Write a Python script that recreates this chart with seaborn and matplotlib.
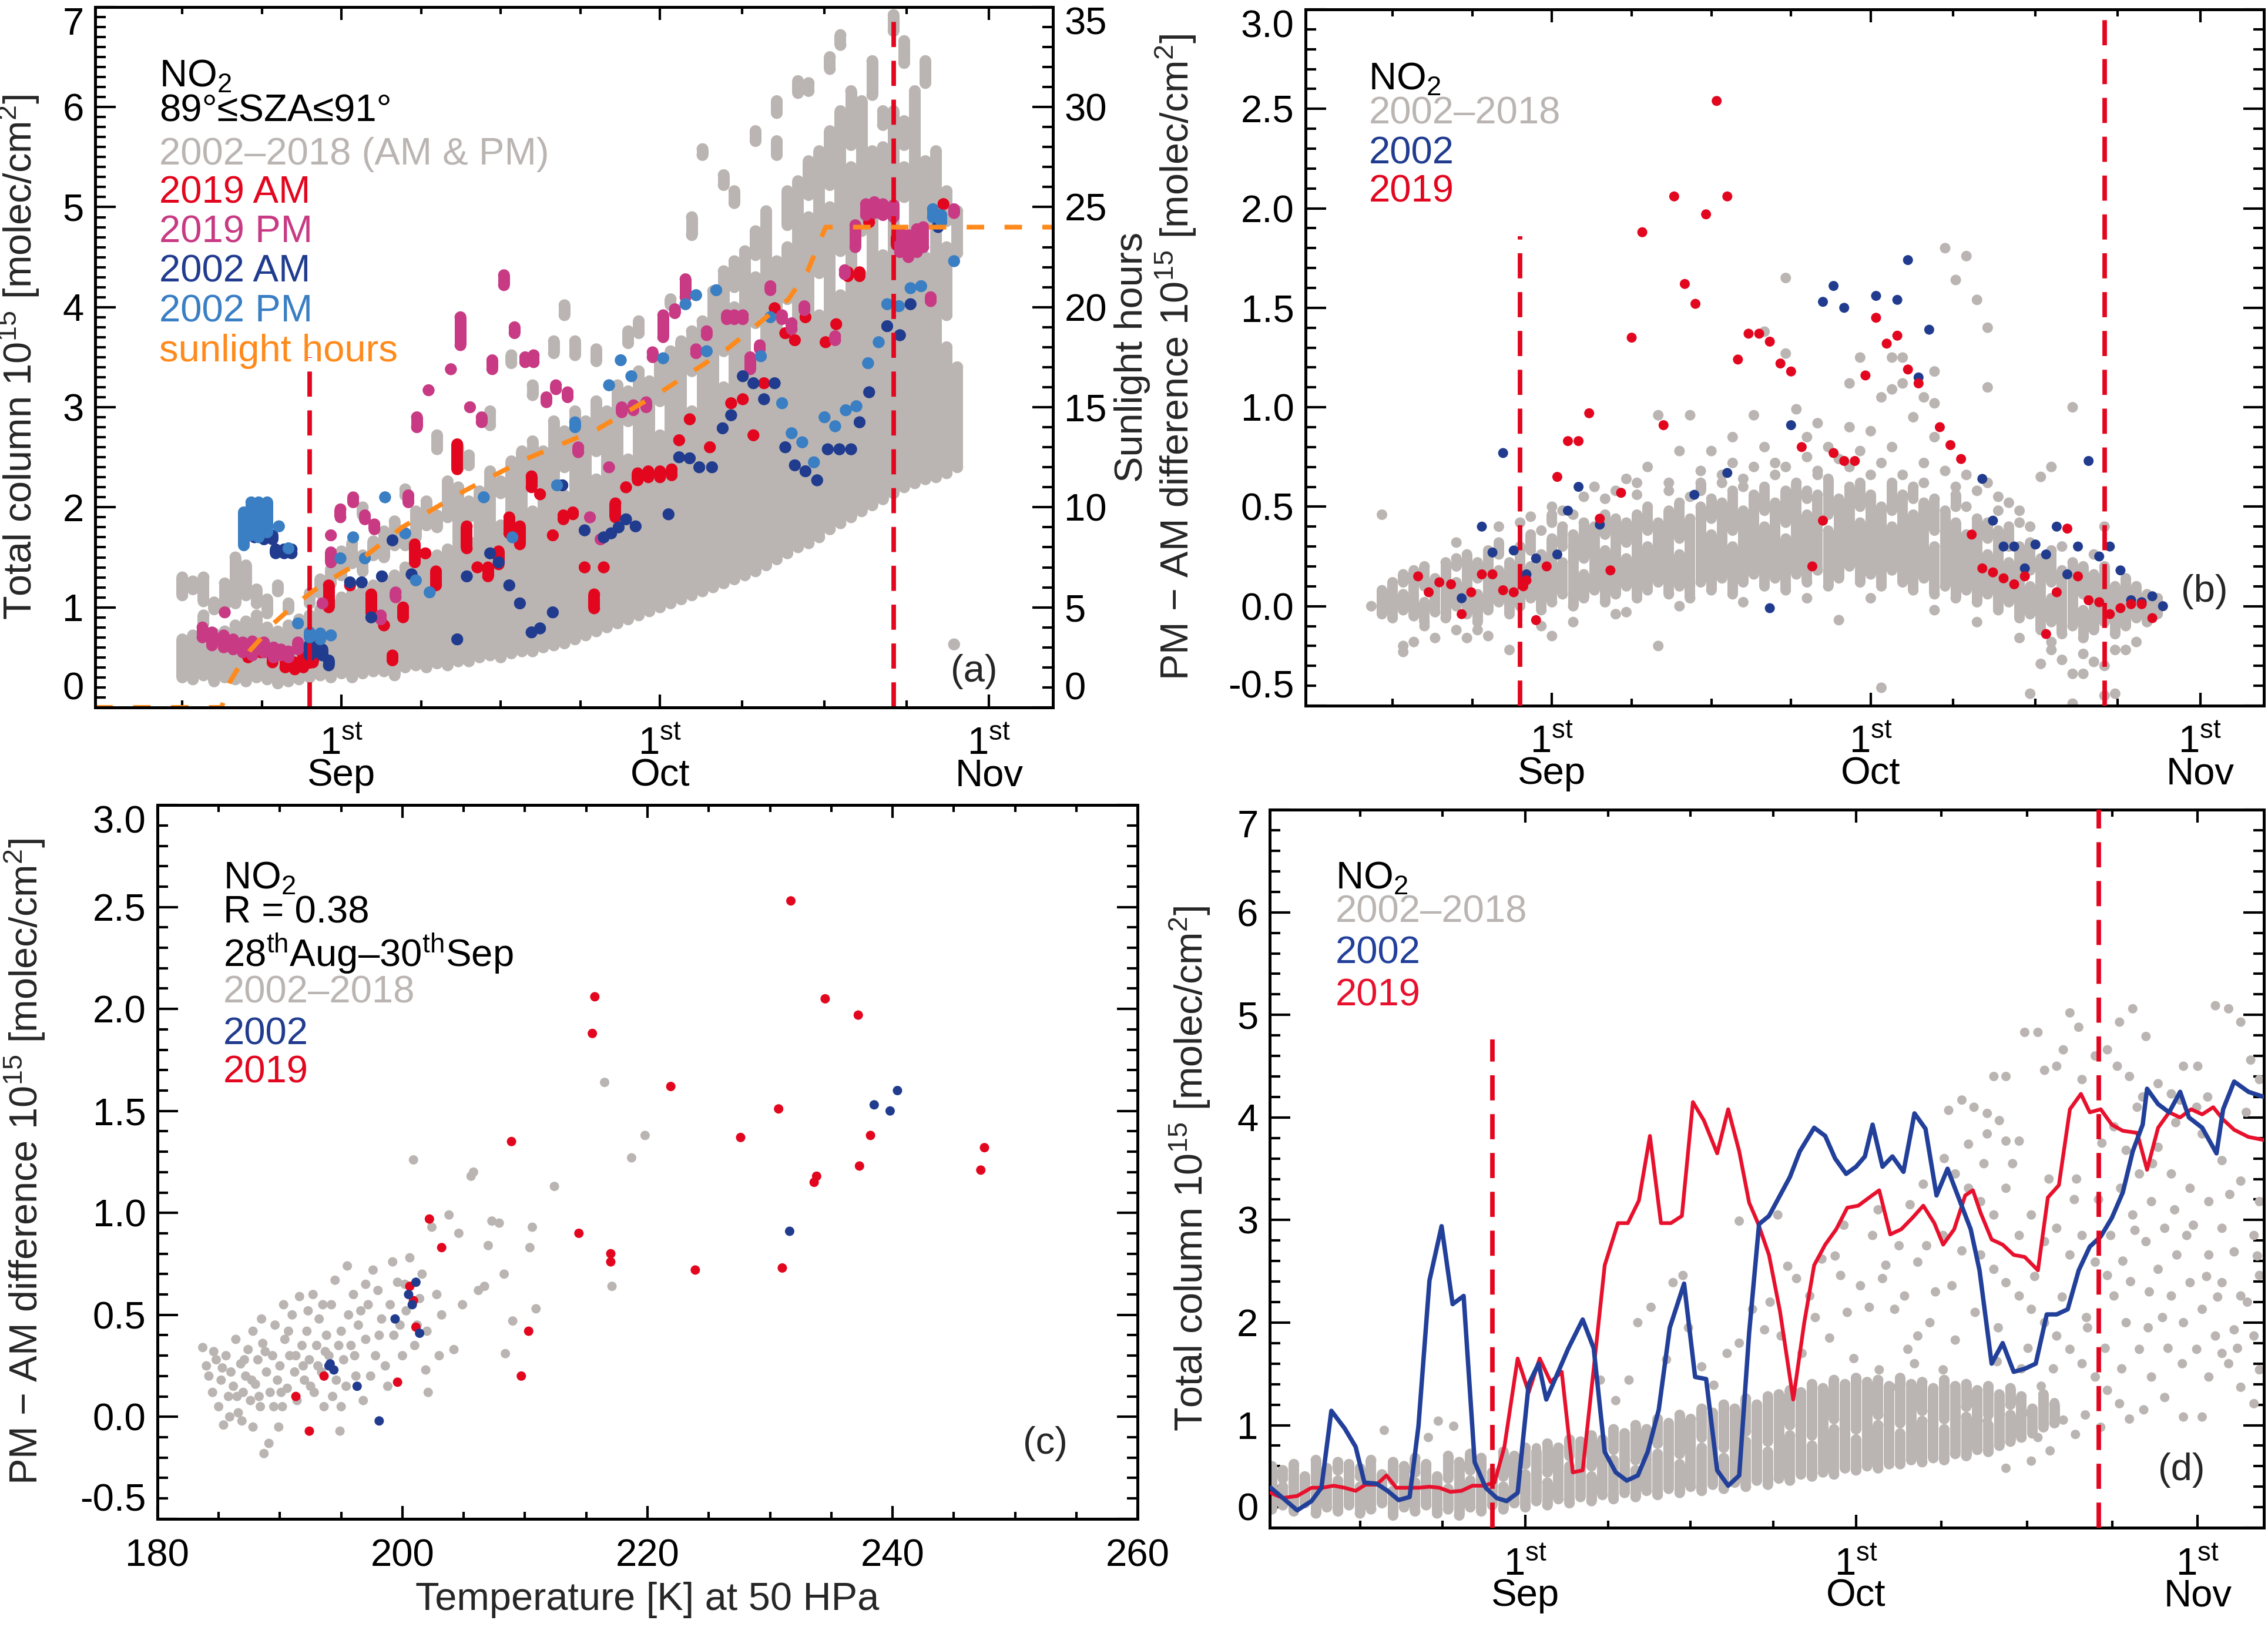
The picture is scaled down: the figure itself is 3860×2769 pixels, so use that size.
"""
Four-panel NO2 figure: (a) total column vs date, (b) PM-AM difference vs date,
(c) PM-AM difference vs 50 hPa temperature, (d) total column with 2002 / 2019 lines.
"""
import pandas as pd
import matplotlib
matplotlib.use("Agg")
import matplotlib.pyplot as plt
import seaborn as sns

sns.set_theme(style="ticks")
plt.rcParams["font.family"] = ["Liberation Sans", "DejaVu Sans"]
plt.rcParams["mathtext.fontset"] = "custom"
plt.rcParams["mathtext.rm"] = "Liberation Sans"
plt.rcParams["mathtext.it"] = "Liberation Sans:italic"
plt.rcParams["mathtext.bf"] = "Liberation Sans:bold"
plt.rcParams["mathtext.default"] = "regular"

DPI = 200
FS = 23.5          # graduations, annotations
FS_LAB = 24        # titres d'axes

# ── Couleurs ───────────────────────────────────────────────────────────────────
GREY   = "#bab5b2"
RED    = "#e3061f"
PINK   = "#c83a84"
NAVY   = "#213c8f"
SKY    = "#3a7ec3"
ORANGE = "#ff8a1c"
LINE_BLUE = "#22409a"
LINE_RED  = "#e8112d"

# ── Axe des dates (jour de l'année) ────────────────────────────────────────────
DATE_LIM     = (220.8, 311.0)
MONTH_DAYS   = [244, 274, 305]
MONTH_NAMES  = ["Sep", "Oct", "Nov"]
QUARTER_DAYS = [229.0, 236.5, 251.5, 259.0, 266.5, 281.75, 289.5, 297.25]
CAMPAIGN_START = 241.0
CAMPAIGN_END   = 296.0

# ── (a) colonnes totales : (jour, min, max) de chaque traînée de points ────────
GREY_A = [
    (229, 0.30, 0.68), (229, 1.12, 1.30), (230, 0.28, 0.72), (230, 1.18, 1.26),
    (231, 0.32, 0.70), (231, 0.84, 0.92), (231, 1.06, 1.30), (232, 0.26, 0.74),
    (232, 0.98, 1.05), (233, 0.30, 0.76), (233, 1.02, 1.24), (234, 0.28, 0.82),
    (234, 1.04, 1.50), (235, 0.26, 0.86), (235, 1.12, 1.42), (236, 0.30, 0.92),
    (236, 1.04, 1.18), (237, 0.28, 0.80), (237, 0.94, 1.08), (238, 0.24, 0.76),
    (238, 1.16, 1.22), (239, 0.26, 0.82), (239, 0.98, 1.04), (240, 0.28, 0.88),
    (241, 0.30, 0.92), (241, 1.04, 1.14), (242, 0.32, 0.98), (242, 1.14, 1.28),
    (243, 0.30, 1.04), (243, 1.24, 1.38), (244, 0.34, 1.10), (244, 1.32, 1.56),
    (245, 0.30, 1.14), (245, 1.44, 1.64), (246, 0.34, 1.18), (246, 1.36, 1.52),
    (246, 1.92, 2.00), (247, 0.36, 1.22), (247, 1.52, 1.66), (248, 0.36, 1.28),
    (248, 1.50, 1.76), (249, 0.32, 1.32), (249, 1.62, 1.86), (250, 0.40, 1.40),
    (250, 1.62, 1.72), (250, 2.12, 2.18), (251, 0.42, 1.46), (251, 1.70, 1.96),
    (252, 0.40, 1.50), (252, 1.82, 2.06), (253, 0.44, 1.52), (253, 1.80, 1.92),
    (253, 2.58, 2.72), (254, 0.42, 1.58), (254, 1.90, 2.26), (255, 0.46, 2.20),
    (255, 2.40, 2.60), (256, 0.46, 1.66), (256, 1.90, 2.06), (256, 2.42, 2.52),
    (257, 0.50, 2.16), (258, 0.52, 2.36), (258, 2.82, 2.96), (259, 0.50, 1.82),
    (259, 2.14, 2.26), (260, 0.54, 2.46), (260, 3.44, 3.52), (261, 0.56, 2.56),
    (262, 0.56, 1.96), (262, 2.26, 2.66), (262, 3.12, 3.22), (263, 0.60, 2.56),
    (264, 0.62, 2.86), (264, 3.54, 3.66), (265, 0.64, 2.12), (265, 2.40, 2.76),
    (265, 3.92, 4.02), (266, 0.68, 2.96), (266, 3.52, 3.66), (267, 0.72, 2.86),
    (268, 0.76, 2.28), (268, 2.56, 3.06), (268, 3.46, 3.58), (269, 0.80, 2.96),
    (270, 0.84, 3.22), (271, 0.88, 2.48), (271, 2.86, 3.16), (271, 3.64, 3.76),
    (272, 0.92, 3.36), (272, 3.74, 3.86), (273, 0.96, 3.26), (274, 1.00, 2.72),
    (274, 3.06, 3.46), (275, 1.04, 3.56), (275, 4.02, 4.08), (276, 1.08, 3.66),
    (277, 1.12, 2.96), (277, 3.36, 3.76), (277, 4.72, 4.90), (278, 1.16, 3.86),
    (278, 5.52, 5.58), (279, 1.20, 4.16), (280, 1.24, 3.20), (280, 3.56, 4.36),
    (280, 5.22, 5.32), (281, 1.28, 4.00), (281, 4.20, 4.46), (281, 5.04, 5.16),
    (282, 1.32, 4.56), (283, 1.36, 3.44), (283, 3.84, 4.30), (283, 4.52, 4.76),
    (283, 5.66, 5.76), (284, 1.42, 4.96), (285, 1.48, 4.46), (285, 5.52, 5.66),
    (285, 5.94, 6.06), (286, 1.54, 3.68), (286, 4.08, 4.60), (286, 4.82, 5.16),
    (287, 1.60, 5.26), (287, 6.14, 6.26), (288, 1.64, 4.90), (288, 5.12, 5.46),
    (288, 6.16, 6.24), (289, 1.70, 3.92), (289, 4.34, 5.56), (290, 1.78, 5.00),
    (290, 5.22, 5.76), (290, 6.38, 6.50), (291, 1.84, 4.12), (291, 4.56, 5.96),
    (291, 6.62, 6.72), (292, 1.90, 5.40), (292, 5.62, 6.16), (293, 1.96, 4.32),
    (293, 4.76, 6.06), (294, 2.02, 5.56), (294, 6.12, 6.46), (295, 2.08, 4.52),
    (295, 4.98, 5.60), (295, 5.82, 5.96), (296, 2.14, 5.96), (296, 6.76, 6.92),
    (297, 2.20, 4.66), (297, 5.10, 5.40), (297, 5.62, 5.86), (297, 6.44, 6.66),
    (298, 2.24, 6.16), (299, 2.28, 4.50), (299, 4.86, 5.46), (299, 6.24, 6.46),
    (300, 2.30, 5.56), (301, 2.34, 3.60), (301, 3.92, 4.60), (301, 4.86, 5.16),
    (302, 2.40, 3.40), (302, 4.54, 4.96), (301.7, 0.63, 0.63),
]
AM_2019_A = [
    (235.2, 0.50, 0.58), (236.4, 0.55, 0.62), (237.5, 0.45, 0.55), (238.7, 0.40, 0.48),
    (239.6, 0.38, 0.45), (240.4, 0.40, 0.52), (241.3, 0.45, 0.70), (242.8, 1.00, 1.22),
    (244.8, 1.22, 1.22), (246.8, 0.95, 1.13), (248.0, 0.82, 0.82), (248.8, 0.47, 0.52),
    (249.8, 0.90, 1.00), (250.9, 1.45, 1.63), (251.9, 1.54, 1.54), (252.9, 1.22, 1.36),
    (254.9, 2.38, 2.63), (255.8, 1.59, 1.81), (256.8, 1.40, 1.40), (257.8, 1.31, 1.40),
    (258.8, 1.43, 1.56), (259.8, 1.74, 1.90), (260.8, 1.63, 1.81), (261.9, 2.20, 2.31),
    (262.7, 2.13, 2.13), (263.9, 1.72, 1.72), (264.9, 1.88, 1.92), (265.8, 1.93, 1.95),
    (266.9, 1.40, 1.40), (267.8, 0.99, 1.13), (268.7, 1.40, 1.40), (269.8, 1.90, 2.04),
    (270.8, 2.20, 2.20), (271.9, 2.27, 2.34), (272.9, 2.30, 2.36), (274.0, 2.30, 2.36),
    (275.1, 2.32, 2.38), (275.8, 2.67, 2.67), (276.8, 2.88, 2.88), (278.7, 2.60, 2.60),
    (280.7, 3.04, 3.04), (281.8, 3.08, 3.08), (282.8, 2.72, 2.72), (283.8, 3.24, 3.24),
    (284.8, 3.99, 3.99), (285.8, 3.74, 3.74), (286.7, 3.67, 3.67), (287.7, 3.90, 3.90),
    (289.6, 3.65, 3.65), (290.6, 3.83, 3.83), (291.7, 4.31, 4.35), (292.8, 4.31, 4.35),
    (293.7, 4.85, 4.85), (296.3, 4.62, 4.70), (297.4, 4.62, 4.70), (298.6, 4.62, 4.70),
    (300.7, 5.03, 5.03),
]
PM_2019_A = [
    (230.9, 0.70, 0.80), (231.8, 0.62, 0.75), (232.9, 0.60, 0.72), (233.0, 0.95, 0.95),
    (233.8, 0.58, 0.68), (234.7, 0.55, 0.65), (235.6, 0.52, 0.66), (236.7, 0.55, 0.65),
    (237.6, 0.50, 0.60), (238.3, 0.52, 0.58), (239.0, 0.50, 0.56), (239.9, 0.58, 0.65),
    (242.2, 1.04, 1.04), (243.0, 1.45, 1.55), (243.0, 1.72, 1.72), (243.9, 1.90, 1.98),
    (245.1, 2.05, 2.10), (246.2, 1.88, 1.92), (247.1, 1.78, 1.83), (247.7, 0.88, 0.92),
    (249.1, 1.10, 1.15), (250.3, 2.05, 2.12), (251.1, 2.80, 2.90), (252.2, 3.17, 3.17),
    (254.3, 3.38, 3.38), (255.2, 3.62, 3.90), (256.1, 3.00, 3.00), (257.2, 2.85, 2.90),
    (258.2, 3.38, 3.47), (259.3, 4.22, 4.32), (260.3, 3.74, 3.80), (261.3, 3.45, 3.50),
    (262.1, 3.45, 3.52), (263.3, 3.05, 3.10), (264.2, 3.18, 3.22), (265.3, 3.10, 3.15),
    (266.3, 2.55, 2.60), (267.4, 1.90, 1.90), (268.4, 1.68, 1.68), (269.2, 2.40, 2.40),
    (270.4, 2.95, 3.00), (271.5, 2.97, 3.02), (272.7, 3.00, 3.05), (273.3, 3.50, 3.55),
    (274.3, 3.70, 3.92), (275.4, 3.94, 3.98), (276.4, 4.10, 4.28), (277.4, 3.54, 3.58),
    (278.4, 3.72, 3.76), (280.3, 3.88, 3.92), (281.0, 3.88, 3.92), (281.8, 3.88, 3.92),
    (282.5, 3.38, 3.50), (283.4, 3.58, 3.62), (284.4, 4.17, 4.21), (285.5, 3.88, 3.92),
    (286.4, 3.78, 3.84), (287.6, 3.97, 4.01), (290.5, 3.67, 3.71), (291.4, 4.33, 4.37),
    (292.4, 4.60, 4.82), (293.4, 4.92, 5.03), (294.2, 4.94, 5.05), (295.0, 4.92, 5.03),
    (296.0, 4.90, 5.02), (296.6, 4.55, 4.76), (297.4, 4.50, 4.72), (298.2, 4.55, 4.78),
    (298.8, 4.60, 4.80), (299.5, 4.06, 4.10), (301.7, 4.94, 4.98),
]
AM_2002_A = [
    (235.8, 1.70, 1.76), (236.7, 1.68, 1.74), (237.5, 1.68, 1.72), (237.8, 1.54, 1.58),
    (238.6, 1.54, 1.58), (239.3, 1.54, 1.58), (241.0, 0.52, 0.63), (241.8, 0.55, 0.62),
    (242.2, 0.52, 0.58), (242.8, 0.42, 0.47), (244.8, 1.25, 1.25), (245.9, 1.25, 1.25),
    (246.8, 0.90, 0.90), (247.8, 1.31, 1.31), (248.8, 1.67, 1.67), (250.6, 1.33, 1.33),
    (254.9, 0.68, 0.68), (255.8, 1.31, 1.31), (258.0, 1.54, 1.54), (258.8, 1.45, 1.45),
    (259.8, 1.22, 1.22), (260.8, 1.04, 1.04), (261.9, 0.75, 0.75), (262.7, 0.79, 0.79),
    (263.9, 0.95, 0.95), (264.8, 2.22, 2.22), (266.9, 1.77, 1.77), (268.7, 1.70, 1.70),
    (269.4, 1.74, 1.74), (270.1, 1.80, 1.80), (270.8, 1.88, 1.88), (271.7, 1.81, 1.81),
    (274.8, 1.93, 1.93), (275.8, 2.50, 2.50), (276.8, 2.49, 2.49), (277.7, 2.40, 2.40),
    (278.9, 2.40, 2.40), (279.9, 2.79, 2.79), (280.7, 2.92, 2.92), (281.8, 3.31, 3.31),
    (282.8, 3.24, 3.24), (283.8, 3.08, 3.08), (284.8, 3.24, 3.24), (285.8, 2.60, 2.60),
    (286.7, 2.42, 2.42), (287.7, 2.36, 2.36), (288.8, 2.27, 2.27), (289.8, 2.58, 2.58),
    (290.9, 2.58, 2.58), (292.0, 2.58, 2.58), (292.8, 2.85, 2.85), (293.7, 3.15, 3.15),
    (295.4, 3.81, 3.81), (296.6, 3.72, 3.72), (297.6, 4.03, 4.03), (300.2, 4.80, 4.92),
]
PM_2002_A = [
    (234.8, 1.62, 1.95), (235.5, 1.72, 2.05), (236.2, 1.70, 2.05), (237.0, 1.75, 2.05),
    (238.1, 1.81, 1.81), (239.0, 1.59, 1.59), (239.9, 0.84, 0.84), (241.0, 0.70, 0.75),
    (242.0, 0.68, 0.74), (243.0, 0.72, 0.72), (243.9, 1.49, 1.49), (245.1, 1.70, 1.70),
    (246.2, 1.49, 1.49), (248.1, 2.10, 2.10), (250.0, 1.74, 1.74), (251.0, 1.27, 1.27),
    (252.3, 1.15, 1.15), (257.4, 2.10, 2.10), (260.1, 1.70, 1.70), (264.3, 2.22, 2.22),
    (266.0, 2.80, 2.85), (269.2, 3.22, 3.22), (270.3, 3.47, 3.47), (271.3, 3.31, 3.31),
    (274.3, 3.49, 3.49), (276.4, 4.03, 4.03), (277.4, 4.12, 4.12), (278.4, 3.56, 3.56),
    (279.3, 4.17, 4.17), (283.5, 3.51, 3.51), (284.4, 3.90, 3.90), (285.5, 3.04, 3.04),
    (286.4, 2.74, 2.74), (287.4, 2.65, 2.65), (288.5, 2.45, 2.45), (289.5, 2.90, 2.90),
    (290.5, 2.81, 2.81), (291.5, 2.97, 2.97), (292.5, 3.01, 3.01), (293.6, 3.44, 3.44),
    (294.6, 3.65, 3.65), (295.4, 4.03, 4.03), (296.5, 4.01, 4.01), (297.6, 4.19, 4.19),
    (298.6, 4.21, 4.21), (299.7, 4.90, 4.98), (300.5, 4.85, 4.92), (301.7, 4.46, 4.46),
]
SUN_DAY = [220.8, 232.7, 233.4, 234.4, 235.3, 236.5, 237.6, 239.1, 240.3, 241.8,
           243.3, 244.9, 249.7, 255.5, 261.3, 268.1, 274.2, 280.3, 286.1, 287.9,
           289.6, 311.0]
SUN_HRS = [0.0, 0.0, 1.2, 2.1, 2.8, 3.5, 4.2, 4.9, 5.4, 6.0,
           6.5, 7.0, 9.0, 10.8, 12.4, 13.9, 15.8, 17.9, 20.4, 21.8,
           24.0, 24.0]

# ── (b) différence PM - AM : traînées 2002-2018 (jour, min, max) et points isolés
GREY_B_STREAKS = [
    (228, -0.04, 0.08), (229, -0.06, 0.12), (230, -0.02, 0.06), (230, 0.12, 0.16),
    (231, -0.05, 0.18), (232, -0.08, 0.02), (232, 0.10, 0.20), (233, -0.03, 0.14),
    (234, -0.06, 0.22), (235, 0.00, 0.12), (235, 0.20, 0.24), (236, -0.04, 0.26),
    (237, -0.08, 0.06), (237, 0.14, 0.22), (238, -0.02, 0.28), (239, 0.02, 0.18),
    (239, 0.26, 0.32), (240, -0.04, 0.22), (241, 0.00, 0.30), (242, 0.04, 0.20),
    (242, 0.28, 0.36), (243, -0.02, 0.26), (244, 0.02, 0.34), (244, 0.42, 0.46),
    (245, 0.06, 0.22), (245, 0.30, 0.40), (246, 0.00, 0.36), (247, 0.04, 0.16),
    (247, 0.24, 0.42), (248, 0.08, 0.40), (249, 0.02, 0.28), (249, 0.36, 0.46),
    (250, 0.06, 0.44), (251, 0.10, 0.24), (251, 0.32, 0.42), (252, 0.04, 0.46),
    (253, 0.08, 0.30), (253, 0.38, 0.50), (254, 0.12, 0.42), (255, 0.06, 0.48),
    (256, 0.10, 0.26), (256, 0.34, 0.52), (257, 0.04, 0.44), (258, 0.12, 0.50),
    (258, 0.58, 0.62), (259, 0.08, 0.36), (259, 0.44, 0.54), (260, 0.14, 0.52),
    (261, 0.06, 0.30), (261, 0.38, 0.58), (262, 0.12, 0.48), (263, 0.16, 0.56),
    (264, 0.10, 0.40), (264, 0.48, 0.60), (265, 0.14, 0.52), (266, 0.08, 0.34),
    (266, 0.42, 0.58), (267, 0.16, 0.62), (268, 0.12, 0.46), (268, 0.54, 0.58),
    (269, 0.18, 0.56), (270, 0.10, 0.38), (270, 0.46, 0.64), (271, 0.14, 0.54),
    (272, 0.20, 0.60), (273, 0.12, 0.42), (273, 0.50, 0.62), (274, 0.16, 0.56),
    (275, 0.10, 0.50), (276, 0.18, 0.40), (276, 0.48, 0.62), (277, 0.12, 0.56),
    (278, 0.08, 0.46), (278, 0.54, 0.60), (279, 0.14, 0.52), (280, 0.06, 0.30),
    (280, 0.38, 0.54), (281, 0.10, 0.48), (282, 0.04, 0.42), (282, 0.50, 0.56),
    (283, 0.08, 0.36), (284, 0.02, 0.44), (285, 0.06, 0.26), (285, 0.34, 0.42),
    (286, -0.02, 0.38), (287, 0.02, 0.22), (287, 0.30, 0.40), (288, -0.06, 0.30),
    (289, -0.04, 0.10), (289, 0.18, 0.32), (290, -0.12, 0.24), (291, -0.08, 0.04),
    (291, 0.12, 0.28), (292, -0.14, 0.18), (293, -0.10, 0.22), (294, -0.16, -0.02),
    (294, 0.06, 0.20), (295, -0.12, 0.16), (296, -0.08, 0.20), (297, -0.14, 0.10),
    (298, -0.10, 0.14), (299, -0.06, 0.10), (300, -0.08, 0.06), (301, -0.04, 0.04),
]
GREY_B_DOTS = [
    (227, 0.00), (228, 0.46), (230, -0.23), (230, -0.20), (231, -0.18), (233, -0.16),
    (235, -0.12), (236, -0.16), (238, -0.15), (240, -0.22), (241, 0.42), (242, 0.45),
    (243, -0.10), (244, 0.50), (244, -0.15), (245, 0.48), (247, 0.55), (248, 0.60),
    (250, 0.58), (251, 0.64), (251, -0.03), (252, 0.62), (253, 0.70), (254, 0.96),
    (254, -0.20), (255, 0.62), (256, 0.78), (257, 0.96), (258, 0.68), (259, 0.78),
    (260, 0.66), (261, 0.72), (261, 0.85), (262, 0.64), (263, 0.96), (263, 0.70),
    (264, 1.38), (264, 0.80), (265, 0.72), (266, 1.65), (266, 1.27), (266, 0.70),
    (267, 0.99), (268, 0.85), (268, 0.75), (269, 0.92), (269, 0.68), (270, 0.80),
    (271, -0.07), (271, 0.74), (272, 0.90), (272, 1.12), (273, 0.78), (273, 1.25),
    (274, 0.88), (275, -0.41), (275, 1.05), (275, 0.72), (276, 1.25), (276, 0.80),
    (276, 1.09), (277, 1.12), (277, 1.25), (278, 0.95), (279, 1.05), (279, 0.72),
    (280, 0.85), (280, 1.18), (280, 1.02), (281, 1.80), (281, 0.68), (282, 1.64),
    (282, 0.60), (283, 1.76), (283, 0.66), (284, 1.54), (284, 0.58), (285, 1.40),
    (285, 1.10), (285, 0.62), (286, 0.55), (287, 0.52), (288, 0.48), (289, -0.44),
    (289, 0.40), (290, -0.29), (290, 0.65), (291, 0.70), (291, -0.22), (292, -0.27),
    (293, -0.34), (293, -0.49), (293, 1.00), (294, -0.34), (295, -0.28), (296, -0.30),
    (296, 0.40), (296, -0.45), (297, -0.44), (298, -0.22), (235, 0.32), (239, 0.40),
    (243, 0.38), (246, 0.46), (249, 0.54), (252, 0.56), (255, 0.58), (257, 0.55),
    (260, 0.62), (262, 0.60), (265, 0.66), (269, 0.66), (272, 0.70), (274, 0.66),
    (277, 0.66), (279, 0.62), (283, 0.50), (286, 0.48), (288, 0.42), (292, 0.30),
    (295, 0.26), (232, -0.10), (237, -0.12), (246, -0.08), (250, -0.04), (256, 0.00),
    (262, 0.02), (268, 0.04), (274, 0.04), (280, -0.02), (284, -0.08), (288, -0.16),
    (291, -0.18), (294, -0.24), (297, -0.22), (299, -0.18),
]
RED_B = [
    (231.4, 0.15), (232.4, 0.07), (233.4, 0.12), (234.5, 0.11), (235.5, -0.04), (236.4, 0.07),
    (237.4, 0.16), (238.4, 0.16), (239.4, 0.08), (240.4, 0.07), (241.3, 0.10), (241.6, 0.13),
    (242.5, -0.07), (243.5, 0.20), (244.5, 0.65), (245.5, 0.83), (246.5, 0.83), (247.5, 0.97),
    (248.5, 0.44), (249.5, 0.18), (250.5, 0.57), (251.5, 1.35), (252.5, 1.88), (254.5, 0.91),
    (255.5, 2.06), (256.5, 1.62), (257.5, 1.52), (258.5, 1.97), (259.5, 2.54), (260.5, 2.06),
    (261.5, 1.24), (262.5, 1.37), (263.5, 1.37), (264.5, 1.33), (265.5, 1.22), (266.5, 1.18),
    (267.5, 0.80), (268.5, 0.20), (269.5, 0.43), (270.5, 0.77), (271.5, 0.73), (272.5, 0.73),
    (273.5, 1.16), (274.5, 1.45), (275.5, 1.32), (276.5, 1.36), (277.5, 1.19), (278.5, 1.12),
    (280.5, 0.90), (281.5, 0.81), (282.5, 0.74), (283.5, 0.36), (284.5, 0.19), (285.5, 0.17),
    (286.5, 0.14), (287.5, 0.11), (288.5, 0.15), (290.5, -0.14), (291.5, 0.07), (292.5, 0.39),
    (293.5, 0.15), (294.5, 0.03), (295.5, 0.02), (296.5, -0.04), (297.5, -0.01), (298.5, 0.01),
    (299.5, 0.01), (300.5, -0.06),
]
BLUE_B = [
    (235.5, 0.04), (237.4, 0.40), (238.4, 0.27), (239.4, 0.77), (240.4, 0.28), (241.6, 0.16),
    (242.5, 0.24), (244.5, 0.26), (245.5, 0.48), (246.5, 0.60), (248.5, 0.41), (257.4, 0.56),
    (260.5, 0.67), (264.5, -0.01), (266.5, 0.91), (269.5, 1.53), (270.5, 1.61), (271.5, 1.50),
    (274.5, 1.56), (276.5, 1.54), (277.5, 1.74), (278.5, 1.15), (279.5, 1.39), (284.5, 0.64),
    (285.5, 0.43), (286.5, 0.30), (287.5, 0.30), (288.5, 0.19), (289.5, 0.31), (290.5, 0.26),
    (291.5, 0.40), (292.5, 0.16), (293.5, 0.30), (294.5, 0.73), (295.5, 0.25), (296.5, 0.30),
    (297.5, 0.18), (298.5, 0.03), (299.5, 0.02), (300.5, 0.05), (301.5, 0.00),
]

# ── (c) différence PM - AM vs température à 50 hPa ─────────────────────────────
GREY_C = [
    (183.7, 0.34), (184.2, 0.20), (184.5, 0.12), (184.8, 0.28), (185.0, 0.05), (185.2, 0.18),
    (185.4, -0.04), (185.6, 0.30), (185.8, 0.10), (186.0, 0.22), (186.2, 0.15), (186.4, 0.38),
    (186.6, 0.02), (186.8, 0.26), (187.0, 0.12), (187.2, 0.20), (187.4, 0.33), (187.6, 0.08),
    (187.8, 0.42), (187.8, -0.05), (188.0, 0.16), (188.2, 0.28), (188.4, 0.05), (188.6, 0.36),
    (188.7, -0.18), (188.9, 0.22), (189.1, -0.13), (189.2, 0.12), (189.4, 0.30), (189.6, 0.45),
    (189.8, 0.18), (190.0, 0.25), (190.2, 0.05), (190.4, 0.38), (190.6, 0.14), (190.8, 0.30),
    (191.0, 0.50), (191.2, 0.22), (191.4, 0.08), (191.6, 0.59), (191.8, 0.35), (192.0, 0.18),
    (192.2, 0.42), (192.4, 0.28), (192.7, 0.60), (192.8, 0.12), (193.0, 0.35), (193.2, 0.48),
    (193.4, 0.22), (193.6, 0.05), (193.8, 0.40), (194.0, 0.30), (194.2, 0.55), (194.5, 0.67),
    (194.6, 0.18), (194.9, -0.07), (195.0, 0.42), (195.2, 0.28), (195.5, 0.74), (195.6, 0.50),
    (195.8, 0.35), (196.0, 0.60), (196.2, 0.20), (196.4, 0.45), (196.8, 0.08), (197.0, 0.38),
    (197.2, 0.55), (197.6, 0.72), (197.8, 0.30), (198.0, 0.62), (198.3, 0.48), (198.6, 0.25),
    (199.0, 0.55), (199.3, 0.40), (199.6, 0.66), (200.0, 0.30), (200.3, 0.52), (200.6, 0.78),
    (200.9, 1.26), (201.2, 0.45), (201.6, 0.70), (201.9, 0.23), (202.1, 0.12), (202.4, 0.93),
    (202.8, 0.60), (203.2, 0.50), (203.8, 0.99), (204.2, 0.33), (204.6, 0.90), (204.9, 0.55),
    (205.6, 1.18), (205.8, 1.20), (206.2, 0.62), (206.7, 0.64), (207.0, 0.84), (207.3, 0.96),
    (207.9, 0.95), (208.3, 0.70), (208.4, 0.31), (209.0, 0.47), (210.4, 0.83), (210.6, 0.93),
    (210.9, 0.53), (212.4, 1.13), (216.5, 1.64), (217.1, 0.64), (218.7, 1.27), (219.8, 1.38),
    (184.0, 0.25), (184.6, 0.32), (185.3, 0.24), (185.9, 0.00), (186.5, 0.10), (187.1, 0.28),
    (187.7, 0.18), (188.3, 0.10), (188.8, 0.32), (189.5, 0.05), (190.1, 0.12), (190.7, 0.42),
    (191.3, 0.30), (191.9, 0.25), (192.5, 0.15), (193.1, 0.25), (193.7, 0.32), (194.3, 0.10),
    (194.8, 0.35), (195.4, 0.15), (196.1, 0.30), (196.6, 0.52), (197.4, 0.20), (198.1, 0.40),
    (198.8, 0.15), (199.8, 0.45), (200.2, 0.65), (201.0, 0.35), (202.0, 0.42), (203.0, 0.30),
    (195.0, 0.05), (186.9, -0.02), (189.9, -0.05), (192.3, 0.52), (193.5, 0.55), (188.5, 0.48),
    (190.3, 0.55), (197.0, 0.65), (199.2, 0.76), (201.4, 0.58),
]
RED_C = [
    (231.7, 2.53), (215.7, 2.06), (234.5, 2.05), (237.2, 1.97), (215.5, 1.88), (221.9, 1.62),
    (230.7, 1.51), (208.9, 1.35), (227.6, 1.37), (238.2, 1.38), (247.5, 1.32), (247.2, 1.21),
    (237.3, 1.23), (233.8, 1.18), (233.6, 1.15), (214.4, 0.90), (217.0, 0.80), (217.0, 0.76),
    (223.9, 0.72), (231.0, 0.73), (202.2, 0.97), (203.2, 0.83), (200.6, 0.64), (200.9, 0.57),
    (201.1, 0.44), (210.3, 0.42), (209.7, 0.20), (199.6, 0.17), (193.6, 0.20), (191.3, 0.10),
    (192.4, -0.07),
]
BLUE_C = [
    (231.6, 0.91), (238.5, 1.53), (239.8, 1.50), (240.4, 1.60), (201.1, 0.66), (200.5, 0.60),
    (200.8, 0.55), (199.4, 0.48), (201.4, 0.41), (194.0, 0.25), (194.4, 0.23), (196.3, 0.15),
    (198.1, -0.02), (194.1, 0.26),
]

# ── (d) colonnes totales : bande dense 2002-2018, points épars, courbes ─────────
GREY_D_STREAKS = [
    (221, 0.18, 0.60), (222, 0.22, 0.40), (222, 0.48, 0.56), (223, 0.16, 0.62),
    (224, 0.24, 0.50), (225, 0.14, 0.34), (225, 0.44, 0.66), (226, 0.20, 0.58),
    (227, 0.16, 0.46), (227, 0.56, 0.64), (228, 0.22, 0.62), (229, 0.14, 0.40),
    (229, 0.50, 0.58), (230, 0.18, 0.66), (231, 0.24, 0.52), (232, 0.12, 0.36),
    (232, 0.46, 0.64), (233, 0.20, 0.60), (234, 0.16, 0.44), (234, 0.54, 0.68),
    (235, 0.22, 0.62), (236, 0.14, 0.50), (237, 0.18, 0.38), (237, 0.48, 0.70),
    (238, 0.12, 0.64), (239, 0.20, 0.46), (239, 0.56, 0.72), (240, 0.16, 0.68),
    (241, 0.22, 0.54), (242, 0.18, 0.40), (242, 0.50, 0.74), (243, 0.24, 0.70),
    (244, 0.20, 0.52), (244, 0.62, 0.78), (245, 0.26, 0.74), (246, 0.22, 0.44),
    (246, 0.54, 0.82), (247, 0.28, 0.78), (248, 0.24, 0.60), (248, 0.70, 0.86),
    (249, 0.30, 0.84), (250, 0.26, 0.50), (250, 0.60, 0.90), (251, 0.32, 0.86),
    (252, 0.28, 0.66), (252, 0.76, 0.96), (253, 0.34, 0.92), (254, 0.30, 0.56),
    (254, 0.66, 1.00), (255, 0.36, 0.96), (256, 0.32, 0.72), (256, 0.82, 1.06),
    (257, 0.38, 1.02), (258, 0.34, 0.62), (258, 0.72, 1.10), (259, 0.40, 1.06),
    (260, 0.36, 0.78), (260, 0.88, 1.16), (261, 0.42, 1.12), (262, 0.38, 0.68),
    (262, 0.78, 1.20), (263, 0.44, 1.16), (264, 0.40, 0.84), (264, 0.94, 1.26),
    (265, 0.46, 1.20), (266, 0.42, 0.74), (266, 0.84, 1.28), (267, 0.48, 1.30),
    (268, 0.46, 0.90), (268, 1.00, 1.34), (269, 0.52, 1.32), (270, 0.50, 0.80),
    (270, 0.90, 1.40), (271, 0.54, 1.36), (272, 0.52, 0.96), (272, 1.06, 1.44),
    (273, 0.58, 1.40), (274, 0.56, 0.86), (274, 0.96, 1.46), (275, 0.60, 1.42),
    (276, 0.58, 1.00), (276, 1.10, 1.44), (277, 0.62, 1.38), (278, 0.62, 0.92),
    (278, 1.02, 1.46), (279, 0.66, 1.40), (280, 0.64, 1.04), (280, 1.14, 1.42),
    (281, 0.68, 1.36), (282, 0.66, 0.96), (282, 1.06, 1.44), (283, 0.72, 1.38),
    (284, 0.70, 1.08), (284, 1.18, 1.40), (285, 0.76, 1.34), (286, 0.74, 1.00),
    (286, 1.10, 1.38), (287, 0.80, 1.30), (288, 0.84, 1.10), (288, 1.20, 1.36),
    (289, 0.88, 1.28), (290, 0.92, 1.16), (291, 0.98, 1.30), (292, 1.02, 1.20),
]
GREY_D_DOTS = [
    (231.2, 0.95), (235.2, 0.88), (236.1, 1.04), (237.5, 0.99), (245.0, 0.78), (250.8, 1.44),
    (252.2, 1.24), (253.4, 1.44), (254.2, 2.00), (255.4, 2.15), (256.8, 1.64), (257.4, 2.39),
    (258.3, 2.46), (258.8, 1.95), (260.0, 1.57), (261.1, 1.39), (262.3, 1.70), (263.4, 1.80),
    (263.4, 2.99), (264.6, 2.13), (265.7, 1.93), (266.9, 3.05), (267.2, 1.87), (268.6, 2.43),
    (269.8, 2.26), (270.9, 2.62), (272.1, 2.65), (272.6, 2.46), (273.2, 2.10), (274.4, 2.36),
    (275.5, 2.85), (276.4, 2.43), (276.7, 2.56), (277.5, 2.13), (278.4, 2.26), (278.7, 1.74),
    (279.6, 2.59), (279.6, 1.87), (280.4, 2.75), (280.7, 2.00), (281.9, 2.85), (281.9, 1.54),
    (282.7, 2.36), (283.0, 1.83), (276.1, 1.54), (277.2, 1.37), (275.0, 1.28), (282.4, 4.07),
    (283.6, 4.17), (284.7, 4.10), (285.9, 4.04), (284.2, 3.74), (285.9, 3.84), (287.0, 3.97),
    (287.6, 3.77), (288.8, 3.77), (286.5, 4.40), (287.6, 4.40), (289.3, 4.83), (290.5, 4.83),
    (291.1, 4.46), (292.2, 4.50), (292.8, 4.66), (294.2, 4.88), (293.4, 5.02), (294.5, 4.37),
    (295.7, 4.60), (296.8, 4.66), (297.7, 4.50), (299.1, 5.06), (297.9, 4.93), (300.3, 4.79),
    (301.4, 4.33), (302.6, 4.23), (303.7, 4.50), (303.4, 4.17), (304.9, 4.10), (306.6, 5.09),
    (307.8, 5.06), (308.9, 4.93), (309.8, 4.56), (310.6, 4.37), (283.0, 3.45), (284.2, 3.31),
    (285.3, 3.18), (286.5, 3.05), (287.6, 3.31), (288.8, 2.85), (289.9, 3.05), (291.1, 2.79),
    (292.2, 2.92), (293.4, 2.66), (294.5, 2.85), (295.7, 2.59), (296.8, 2.46), (285.3, 2.66),
    (286.5, 2.52), (287.6, 2.39), (288.8, 2.26), (289.9, 2.13), (291.1, 2.00), (292.2, 1.87),
    (293.4, 1.74), (294.5, 1.60), (295.7, 1.47), (296.8, 1.34), (297.9, 1.21), (292.8, 1.05),
    (293.9, 0.91), (291.6, 0.75), (289.9, 0.65), (287.6, 0.58), (284.2, 1.21), (285.9, 1.04),
    (288.2, 0.98), (290.5, 0.88), (297.4, 3.91), (298.5, 3.68), (299.7, 3.45), (300.8, 3.18),
    (302.0, 2.92), (303.1, 2.66), (304.3, 2.39), (305.4, 2.13), (306.6, 1.87), (307.8, 1.60),
    (308.9, 1.37), (310.1, 1.21), (298.0, 3.31), (299.1, 3.05), (300.3, 2.79), (301.4, 2.52),
    (302.6, 2.26), (303.7, 2.00), (304.9, 1.74), (306.0, 1.47), (307.2, 1.70), (308.3, 1.93),
    (309.5, 2.20), (310.6, 2.46), (297.4, 2.26), (298.5, 2.00), (299.7, 1.74), (300.8, 1.47),
    (302.0, 1.27), (303.7, 1.08), (305.4, 1.08), (301.4, 3.71), (302.6, 3.45), (304.3, 3.31),
    (306.0, 3.18), (307.2, 2.92), (308.3, 2.69), (310.1, 2.85), (305.4, 3.84), (307.2, 3.58),
    (308.9, 3.38), (310.6, 3.18), (306.0, 2.66), (307.2, 2.39), (308.9, 2.26), (310.1, 1.87),
    (310.6, 1.54), (288.0, 1.30), (289.2, 1.12), (290.8, 1.38), (292.0, 1.22), (294.8, 1.10),
    (296.2, 0.98), (298.8, 1.06), (300.1, 1.15), (286.8, 1.62), (289.6, 1.75), (291.9, 1.55),
    (295.0, 1.95), (298.2, 2.60), (300.6, 2.30), (302.3, 1.75), (304.0, 2.85), (305.8, 2.45),
    (303.0, 3.95), (305.0, 4.50), (300.0, 4.20), (296.0, 3.20), (294.0, 3.40), (298.8, 4.40),
    (266.2, 2.20), (267.8, 2.55), (269.1, 1.70), (270.3, 2.05), (271.6, 1.85), (272.9, 2.95),
    (273.8, 1.65), (275.2, 2.15), (276.0, 3.10), (277.9, 2.75), (278.9, 3.15), (279.3, 1.60),
    (280.1, 3.35), (281.2, 2.30), (282.0, 3.60), (283.6, 2.70), (284.8, 2.10), (285.6, 3.55),
    (286.9, 1.95), (288.2, 3.55), (289.0, 1.55), (290.2, 2.45), (291.5, 3.40), (292.7, 2.25),
    (293.8, 3.20), (294.9, 2.05), (296.3, 3.75), (297.1, 2.85), (298.9, 2.40), (299.5, 4.10),
    (300.9, 3.55), (301.8, 2.05), (302.9, 3.10), (303.6, 1.60), (304.6, 2.95), (305.9, 4.20),
    (306.8, 2.25), (307.9, 3.25), (308.6, 1.75), (309.4, 4.05), (310.4, 2.65), (296.6, 1.75),
    (298.1, 1.55), (299.3, 2.90), (300.5, 1.95),
]
BLUE_D = [
    (220.9, 0.39), (222.0, 0.29), (223.3, 0.17), (224.6, 0.26), (225.5, 0.39), (226.4, 1.14),
    (227.6, 0.97), (228.6, 0.79), (229.4, 0.44), (230.5, 0.43), (231.5, 0.36), (232.5, 0.27),
    (233.5, 0.30), (234.3, 0.99), (235.3, 2.41), (236.4, 2.94), (237.4, 2.18), (238.4, 2.26),
    (239.4, 0.64), (240.4, 0.39), (241.4, 0.29), (242.3, 0.26), (243.3, 0.34), (244.3, 1.40),
    (245.2, 1.60), (245.9, 1.25), (246.9, 1.50), (247.9, 1.75), (249.2, 2.03), (250.2, 1.75),
    (251.2, 0.74), (252.2, 0.54), (253.2, 0.46), (254.2, 0.51), (255.1, 0.74), (256.1, 1.15),
    (257.1, 1.95), (258.4, 2.38), (259.4, 1.47), (260.4, 1.45), (261.4, 0.56), (262.4, 0.41),
    (263.4, 0.51), (264.3, 1.90), (265.2, 2.96), (266.1, 3.04), (267.0, 3.22), (268.0, 3.42),
    (268.9, 3.67), (270.2, 3.90), (271.2, 3.82), (272.1, 3.60), (273.1, 3.45), (274.0, 3.52),
    (274.8, 3.62), (275.5, 3.93), (276.4, 3.52), (277.3, 3.62), (278.3, 3.47), (279.3, 4.04),
    (280.3, 3.89), (281.3, 3.24), (282.3, 3.50), (283.4, 3.19), (284.4, 2.91), (285.2, 2.51),
    (286.3, 1.60), (287.3, 1.80), (288.3, 1.52), (289.3, 1.55), (290.3, 1.60), (291.3, 2.08),
    (292.2, 2.08), (293.2, 2.13), (294.2, 2.51), (295.2, 2.74), (296.2, 2.84), (297.2, 3.02),
    (298.2, 3.27), (299.1, 3.67), (300.0, 3.93), (300.4, 4.28), (301.4, 4.13), (302.4, 4.05),
    (303.4, 4.25), (304.2, 4.00), (305.4, 3.90), (306.7, 3.65), (307.3, 4.08), (308.3, 4.35),
    (309.6, 4.25), (311.0, 4.20),
]
RED_D = [
    (220.9, 0.34), (222.0, 0.29), (223.3, 0.31), (224.6, 0.39), (225.6, 0.39), (226.6, 0.41),
    (227.6, 0.39), (228.6, 0.36), (229.5, 0.42), (230.5, 0.42), (231.4, 0.51), (232.3, 0.39),
    (233.3, 0.39), (234.3, 0.39), (235.3, 0.40), (236.2, 0.39), (237.2, 0.35), (238.2, 0.36),
    (239.2, 0.41), (240.2, 0.41), (241.2, 0.44), (242.1, 0.79), (243.3, 1.65), (244.3, 1.32),
    (245.3, 1.65), (246.3, 1.42), (247.3, 1.52), (248.3, 0.54), (249.2, 0.56), (250.2, 1.55),
    (251.2, 2.56), (252.4, 2.97), (253.3, 2.97), (254.3, 3.19), (255.3, 3.82), (256.3, 2.97),
    (257.2, 2.97), (258.2, 3.04), (259.2, 4.15), (260.2, 3.97), (261.4, 3.65), (262.4, 4.08),
    (263.4, 3.67), (264.3, 3.17), (265.1, 2.97), (266.1, 2.66), (267.1, 2.11), (268.3, 1.25),
    (269.3, 2.00), (270.2, 2.56), (271.2, 2.76), (272.2, 2.91), (273.2, 3.12), (274.2, 3.14),
    (275.2, 3.22), (276.1, 3.29), (277.1, 2.86), (278.1, 2.91), (279.1, 3.02), (280.1, 3.14),
    (281.1, 2.97), (281.9, 2.76), (282.9, 2.91), (283.9, 3.24), (284.6, 3.29), (285.3, 3.07),
    (286.3, 2.81), (287.3, 2.76), (288.3, 2.66), (289.3, 2.64), (290.5, 2.51), (291.4, 3.22),
    (292.4, 3.34), (293.4, 4.08), (294.4, 4.23), (295.2, 4.05), (296.2, 4.08), (297.2, 3.93),
    (298.2, 3.87), (299.5, 3.85), (300.4, 3.49), (301.4, 3.90), (302.4, 4.05), (303.4, 4.00),
    (304.4, 4.08), (305.4, 4.03), (306.4, 4.10), (307.3, 3.98), (308.3, 3.88), (309.6, 3.81),
    (311.0, 3.78),
]

UNIT_COL  = "Total column 10$^{15}$ [molec/cm$^{2}$]"
UNIT_DIFF = "PM $-$ AM difference 10$^{15}$ [molec/cm$^{2}$]"


# ── Outils ─────────────────────────────────────────────────────────────────────
def pt(px):
    return px * 72 / DPI


def dots(ax, rows, color, px, z):
    df = pd.DataFrame(rows, columns=["x", "y"])
    sns.scatterplot(data=df, x="x", y="y", color=color, s=pt(px) ** 2, linewidth=0,
                    edgecolor="none", ax=ax, zorder=z, legend=False)


def streaks(ax, rows, color, px, z):
    df = pd.DataFrame(rows, columns=["x", "lo", "hi"])
    ax.vlines(df["x"], df["lo"], df["hi"], colors=color, linewidth=pt(px), zorder=z)
    ends = list(zip(df["x"], df["lo"])) + list(zip(df["x"], df["hi"]))
    dots(ax, ends, color, px, z)


def style(ax, mirror_y=True):
    for s in ax.spines.values():
        s.set_linewidth(1.8)
        s.set_color("black")
    ax.tick_params(which="both", direction="in", width=1.5, colors="black", labelsize=FS)
    ax.tick_params(axis="x", which="major", length=8, top=True, pad=12)
    ax.tick_params(axis="x", which="minor", length=4.3, top=True)
    ax.tick_params(axis="y", which="major", length=12.6, right=mirror_y, pad=7)
    ax.tick_params(axis="y", which="minor", length=6.5, right=mirror_y)
    ax.set_xlabel("")
    ax.set_ylabel("")


def y_axis(ax, lo, hi, major, minor, fmt, side=1):
    ax.set_ylim(lo, hi)
    n = int(round((hi - lo) / major))
    ticks = [lo + i * major for i in range(n + 1)]
    m = int(round((hi - lo) / minor))
    ax.set_yticks(ticks)
    ax.set_yticklabels([fmt.format(t) for t in ticks])
    ax.set_yticks([lo + i * minor for i in range(m + 1)], minor=True)
    tk = ax.yaxis.get_major_ticks()
    lab = (lambda t: t.label1) if side == 1 else (lambda t: t.label2)
    lab(tk[0]).set_verticalalignment("bottom")
    lab(tk[-1]).set_verticalalignment("top")


def date_axis(ax):
    ax.set_xlim(*DATE_LIM)
    ax.set_xticks(MONTH_DAYS)
    ax.set_xticklabels([f"1$^{{st}}$\n{m}" for m in MONTH_NAMES], linespacing=0.85)
    ax.set_xticks(QUARTER_DAYS, minor=True)


def campaign(ax, left_top):
    ls = (0, (5.5, 3))
    ax.vlines(CAMPAIGN_START, ax.get_ylim()[0], left_top, colors=RED, linewidth=2.8,
              linestyles=[ls], zorder=8)
    ax.axvline(CAMPAIGN_END, color=RED, linewidth=2.8, linestyle=ls, zorder=8)


def notes(ax, x, rows):
    for text, color, y in rows:
        ax.text(x, y, text, color=color, fontsize=FS, transform=ax.transAxes,
                ha="left", va="center", zorder=10)


def ylabel(ax, text, x):
    ax.set_ylabel(text, fontsize=FS_LAB, va="center")
    ax.yaxis.set_label_coords(x, 0.5)


# ── Figure ─────────────────────────────────────────────────────────────────────
fig = plt.figure(figsize=(3860 / DPI, 2769 / DPI), dpi=DPI)
ax_a = fig.add_axes([0.0420, 0.5652, 0.4222, 0.4305])
ax_b = fig.add_axes([0.5756, 0.5663, 0.4226, 0.4279])
ax_c = fig.add_axes([0.0694, 0.0665, 0.4322, 0.4387])
ax_d = fig.add_axes([0.5598, 0.0610, 0.4384, 0.4413])

# (a)
streaks(ax_a, GREY_A, GREY, 20, 2)
streaks(ax_a, AM_2019_A, RED, 20, 3)
streaks(ax_a, PM_2019_A, PINK, 20, 4)
streaks(ax_a, AM_2002_A, NAVY, 20, 5)
streaks(ax_a, PM_2002_A, SKY, 20, 6)
style(ax_a, mirror_y=False)
date_axis(ax_a)
y_axis(ax_a, 0, 7, 1, 0.1, "{:.0f}")
campaign(ax_a, 3.5)
ylabel(ax_a, UNIT_COL, -0.0795)
notes(ax_a, 0.067, [
    ("NO$_2$", "black", 0.900), ("89°≤SZA≤91°", "black", 0.851),
    ("2002–2018 (AM & PM)", GREY, 0.789), ("2019 AM", RED, 0.734),
    ("2019 PM", PINK, 0.678), ("2002 AM", NAVY, 0.622),
    ("2002 PM", SKY, 0.565), ("sunlight hours", ORANGE, 0.508),
])
ax_a.text(0.918, 0.051, "(a)", fontsize=FS, transform=ax_a.transAxes, ha="center", va="center")

ax_s = ax_a.twinx()
sns.lineplot(x=SUN_DAY, y=SUN_HRS, ax=ax_s, color=ORANGE, linewidth=2.9, sort=False,
             estimator=None)
ax_s.lines[-1].set_linestyle((0, (3.7, 4.3)))
style(ax_s, mirror_y=False)
ax_s.tick_params(axis="y", which="both", left=False, right=True, labelleft=False, labelright=True)
ax_s.tick_params(axis="x", which="both", top=False, bottom=False)
ax_s.set_xlim(*DATE_LIM)
y_axis(ax_s, 0, 35, 5, 1, "{:.0f}", side=2)
ax_s.set_ylabel("Sunlight hours", fontsize=FS_LAB, rotation=90, va="center")
ax_s.yaxis.set_label_coords(1.083, 0.5)

# (b)
streaks(ax_b, GREY_B_STREAKS, GREY, 18, 2)
dots(ax_b, GREY_B_DOTS, GREY, 18, 2)
dots(ax_b, BLUE_B, NAVY, 17, 3)
dots(ax_b, RED_B, RED, 17, 4)
style(ax_b)
date_axis(ax_b)
y_axis(ax_b, -0.5, 3.0, 0.5, 0.1, "{:.1f}")
campaign(ax_b, 1.86)
ylabel(ax_b, UNIT_DIFF, -0.135)
notes(ax_b, 0.066, [("NO$_2$", "black", 0.899), ("2002–2018", GREY, 0.850),
                    ("2002", NAVY, 0.793), ("2019", RED, 0.738)])
ax_b.text(0.938, 0.164, "(b)", fontsize=FS, transform=ax_b.transAxes, ha="center", va="center")

# (c)
dots(ax_c, GREY_C, GREY, 16, 2)
dots(ax_c, RED_C, RED, 16, 3)
dots(ax_c, BLUE_C, NAVY, 16, 4)
style(ax_c)
ax_c.set_xlim(180, 260)
ax_c.set_xticks([180, 200, 220, 240, 260])
ax_c.set_xticks(list(range(180, 261, 5)), minor=True)
y_axis(ax_c, -0.5, 3.0, 0.5, 0.1, "{:.1f}")
ax_c.tick_params(axis="x", which="major", pad=12)
ylabel(ax_c, UNIT_DIFF, -0.135)
ax_c.set_xlabel("Temperature [K] at 50 HPa", fontsize=FS_LAB)
ax_c.xaxis.set_label_coords(0.5, -0.114)
ax_c.xaxis.label.set_verticalalignment("center")
notes(ax_c, 0.067, [
    ("NO$_2$", "black", 0.897), ("R = 0.38", "black", 0.849),
    ("28$^{th}$Aug–30$^{th}$Sep", "black", 0.792), ("2002–2018", GREY, 0.737),
    ("2002", NAVY, 0.679), ("2019", RED, 0.625),
])
ax_c.text(0.906, 0.105, "(c)", fontsize=FS, transform=ax_c.transAxes, ha="center", va="center")

# (d)
streaks(ax_d, GREY_D_STREAKS, GREY, 18, 2)
dots(ax_d, GREY_D_DOTS, GREY, 16, 2)
red_d = pd.DataFrame(RED_D, columns=["x", "y"])
blue_d = pd.DataFrame(BLUE_D, columns=["x", "y"])
sns.lineplot(data=red_d, x="x", y="y", color=LINE_RED, linewidth=2.3, sort=False,
             estimator=None, ax=ax_d, zorder=4)
sns.lineplot(data=blue_d, x="x", y="y", color=LINE_BLUE, linewidth=2.7, sort=False,
             estimator=None, ax=ax_d, zorder=5)
style(ax_d)
date_axis(ax_d)
y_axis(ax_d, 0, 7, 1, 0.2, "{:.0f}")
campaign(ax_d, 4.76)
ylabel(ax_d, UNIT_COL, -0.080)
notes(ax_d, 0.066, [("NO$_2$", "black", 0.904), ("2002–2018", GREY, 0.857),
                    ("2002", LINE_BLUE, 0.800), ("2019", LINE_RED, 0.741)])
ax_d.text(0.917, 0.080, "(d)", fontsize=FS, transform=ax_d.transAxes, ha="center", va="center")

fig.savefig("out.png", dpi=DPI)
